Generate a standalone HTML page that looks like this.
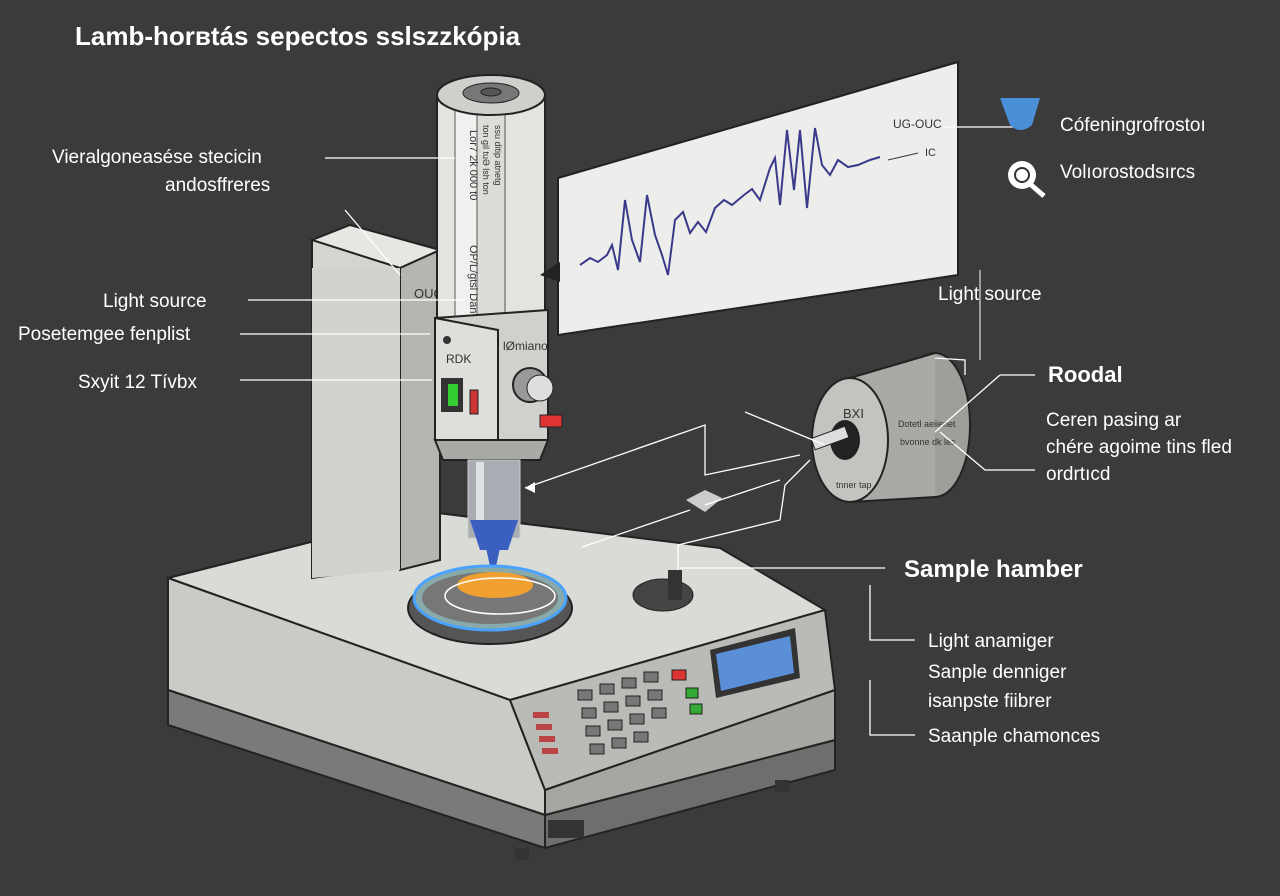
<!DOCTYPE html>
<html><head><meta charset="utf-8"><style>
html,body{margin:0;padding:0;background:#3b3b3b;}
svg{display:block}
text{font-family:"Liberation Sans",sans-serif;fill:#fff}
</style></head><body>
<svg width="1280" height="896" viewBox="0 0 1280 896" xmlns="http://www.w3.org/2000/svg">
<rect width="1280" height="896" fill="#3b3b3b"/>
<text x="75" y="45" font-size="26" font-weight="bold">Lamb-horвtás sepectos sslszzkópia</text>

<!-- base -->
<polygon points="168,578 430,512 720,548 825,610 510,700" fill="#d9dbd6" stroke="#222" stroke-width="2"/>
<polygon points="168,578 510,700 545,790 545,815 168,690" fill="#c9cbc6" stroke="#222" stroke-width="2"/>
<polygon points="168,690 545,815 545,848 168,725" fill="#7a7b78" stroke="#222" stroke-width="2"/>
<polygon points="545,815 835,740 835,770 545,848" fill="#6e6f6c" stroke="#222" stroke-width="2"/>
<polygon points="510,700 825,610 835,690 545,790" fill="#b9bbb6" stroke="#222" stroke-width="2"/>
<polygon points="835,690 835,740 545,815 545,790" fill="#a5a7a2" stroke="#222" stroke-width="2"/>
<rect x="548" y="820" width="36" height="18" fill="#333"/>
<rect x="515" y="848" width="14" height="12" fill="#333"/><rect x="775" y="780" width="14" height="12" fill="#333"/>
<g fill="#777" stroke="#222">
<rect x="578" y="690" width="14" height="10"/><rect x="600" y="684" width="14" height="10"/><rect x="622" y="678" width="14" height="10"/><rect x="644" y="672" width="14" height="10"/>
<rect x="582" y="708" width="14" height="10"/><rect x="604" y="702" width="14" height="10"/><rect x="626" y="696" width="14" height="10"/><rect x="648" y="690" width="14" height="10"/>
<rect x="586" y="726" width="14" height="10"/><rect x="608" y="720" width="14" height="10"/><rect x="630" y="714" width="14" height="10"/><rect x="652" y="708" width="14" height="10"/>
<rect x="590" y="744" width="14" height="10"/><rect x="612" y="738" width="14" height="10"/><rect x="634" y="732" width="14" height="10"/>
</g>
<g fill="#b44"><rect x="533" y="712" width="16" height="6"/><rect x="536" y="724" width="16" height="6"/><rect x="539" y="736" width="16" height="6"/><rect x="542" y="748" width="16" height="6"/></g>
<rect x="672" y="670" width="14" height="10" fill="#d33" stroke="#222"/>
<rect x="686" y="688" width="12" height="10" fill="#3a3" stroke="#222"/><rect x="690" y="704" width="12" height="10" fill="#3a3" stroke="#222"/>
<polygon points="710,650 795,628 800,678 716,698" fill="#333"/>
<polygon points="716,654 790,636 794,673 721,691" fill="#5a8fd8"/>

<!-- pillar -->
<polygon points="312,240 350,225 440,250 440,560 312,578" fill="#d3d5d0" stroke="#222" stroke-width="2"/>
<polygon points="312,240 350,225 440,250 400,268" fill="#e6e7e3" stroke="#222" stroke-width="2"/>
<polygon points="400,268 440,250 440,560 400,570" fill="#b4b6b1" stroke="#222" stroke-width="2"/>
<polygon points="312,268 400,268 400,570 312,578" fill="#d0d2cd"/>
<text x="414" y="298" font-size="13" style="fill:#333">OUC</text>

<!-- tube -->
<rect x="437" y="95" width="108" height="240" fill="#e3e3e0" stroke="#222" stroke-width="2"/>
<rect x="455" y="110" width="22" height="225" fill="#f0f0ee" stroke="#555"/>
<rect x="477" y="110" width="28" height="225" fill="#dcdcd8" stroke="#555"/>
<ellipse cx="491" cy="95" rx="54" ry="20" fill="#cfd0cc" stroke="#222" stroke-width="2"/>
<ellipse cx="491" cy="93" rx="28" ry="10" fill="#777" stroke="#222"/>
<ellipse cx="491" cy="92" rx="10" ry="4" fill="#555" stroke="#222"/>
<text transform="translate(470,130) rotate(90)" font-size="11" style="fill:#333">Lor7 2k 000 t0</text>
<text transform="translate(470,245) rotate(90)" font-size="11" style="fill:#333">OP/L/gtsl Dan</text>
<text transform="translate(483,125) rotate(90)" font-size="9" style="fill:#333">ton gil tuƏ lsh ton</text>
<text transform="translate(495,125) rotate(90)" font-size="9" style="fill:#333">ssu ditip atnetg</text>
<!-- housing -->
<polygon points="435,318 548,310 548,440 435,440" fill="#d0d1cd" stroke="#222" stroke-width="2"/>
<polygon points="435,318 498,330 498,440 435,440" fill="#dedfdb" stroke="#222" stroke-width="2"/>
<text x="446" y="363" font-size="12" style="fill:#333">RDK</text>
<text x="503" y="350" font-size="12" style="fill:#333">lØmiano</text>
<circle cx="447" cy="340" r="4" fill="#333"/>
<rect x="441" y="378" width="22" height="34" fill="#333"/><rect x="448" y="384" width="10" height="22" fill="#3c3"/>
<rect x="470" y="390" width="8" height="24" fill="#c33" stroke="#222"/>
<circle cx="530" cy="385" r="17" fill="#999" stroke="#222" stroke-width="2"/>
<circle cx="540" cy="388" r="13" fill="#ddd" stroke="#222"/>
<rect x="540" y="415" width="22" height="12" fill="#d33" stroke="#222"/>
<polygon points="435,440 548,440 540,460 443,460" fill="#a8aaa5" stroke="#222" stroke-width="2"/>
<rect x="468" y="460" width="52" height="78" fill="#a9adb3" stroke="#ccc"/>
<rect x="476" y="462" width="8" height="70" fill="#e0e2e6"/>
<polygon points="470,520 518,520 508,550 480,550" fill="#3b5fc0"/>
<polygon points="486,548 500,548 493,580" fill="#3b5fc0"/>
<!-- dish -->
<ellipse cx="490" cy="608" rx="82" ry="36" fill="#555" stroke="#222" stroke-width="2"/>
<ellipse cx="490" cy="598" rx="76" ry="32" fill="#8aa" stroke="#4aa3ff" stroke-width="3"/>
<ellipse cx="490" cy="598" rx="68" ry="26" fill="#777"/>
<ellipse cx="495" cy="585" rx="38" ry="13" fill="#f0a030"/>
<ellipse cx="500" cy="596" rx="55" ry="18" fill="none" stroke="#fff" stroke-width="1.5"/>
<ellipse cx="663" cy="595" rx="30" ry="16" fill="#444" stroke="#222"/>
<rect x="668" y="570" width="14" height="30" fill="#333"/>

<!-- graph panel -->
<polygon points="558,178 958,62 958,275 578,332 558,335" fill="#ededeb" stroke="#222" stroke-width="2"/>
<polygon points="540,275 560,262 560,282" fill="#222"/>
<polyline fill="none" stroke="#3a3a8a" stroke-width="2" points="580,265 590,258 598,262 607,255 612,245 618,270 625,200 632,240 640,262 647,195 655,235 662,255 668,275 675,220 683,212 690,233 698,222 706,232 715,208 724,200 732,205 744,195 752,189 760,200 770,168 775,158 780,205 787,130 794,190 800,130 807,208 815,128 822,165 830,175 838,160 848,167 858,165 870,160 880,157"/>
<text x="893" y="128" font-size="12" style="fill:#333">UG-OUC</text>
<text x="925" y="156" font-size="11" style="fill:#333">IC</text>
<line x1="888" y1="160" x2="918" y2="153" stroke="#333"/>

<!-- right cylinder -->
<ellipse cx="935" cy="425" rx="35" ry="72" fill="#9d9f9b" stroke="#222" stroke-width="2"/>
<polygon points="850,378 935,353 935,497 850,502" fill="#a8aaa6"/>
<line x1="850" y1="378" x2="935" y2="353" stroke="#222" stroke-width="2"/>
<line x1="850" y1="502" x2="935" y2="497" stroke="#222" stroke-width="2"/>
<ellipse cx="850" cy="440" rx="38" ry="62" fill="#c3c4c0" stroke="#222" stroke-width="2"/>
<ellipse cx="845" cy="440" rx="15" ry="20" fill="#222"/>
<rect x="812" y="432" width="36" height="12" fill="#ddd" stroke="#222" transform="rotate(-20 830 438)"/>
<text x="843" y="418" font-size="13" style="fill:#333">BXI</text>
<text x="836" y="488" font-size="9" style="fill:#333">tnner tap</text>
<text x="898" y="427" font-size="9" style="fill:#333">Dotetl aeiienet</text>
<text x="900" y="445" font-size="9" style="fill:#333">bvonne dk les</text>
<polygon points="686,500 705,490 722,498 705,512" fill="#ccc"/>

<!-- connectors -->
<g stroke="#fff" stroke-width="1.3" fill="none">
<line x1="325" y1="158" x2="455" y2="158"/>
<line x1="345" y1="210" x2="400" y2="275"/>
<line x1="248" y1="300" x2="465" y2="300"/>
<line x1="240" y1="334" x2="430" y2="334"/>
<line x1="240" y1="380" x2="432" y2="380"/>
<polyline points="525,488 705,425 705,475 800,455"/>
<line x1="745" y1="412" x2="825" y2="445"/>
<line x1="582" y1="547" x2="690" y2="510"/>
<line x1="705" y1="505" x2="780" y2="480"/>
<polyline points="678,570 678,545 780,520 785,485 810,460"/>
<line x1="945" y1="127" x2="1025" y2="127"/>
<line x1="980" y1="270" x2="980" y2="360" stroke-width="1"/>
<polyline points="965,375 965,360 935,358"/>
<line x1="1035" y1="375" x2="1000" y2="375"/>
<line x1="1000" y1="375" x2="935" y2="432"/>
<polyline points="1035,470 985,470 940,432"/>
<line x1="680" y1="568" x2="885" y2="568"/>
<polyline points="870,585 870,640 915,640"/>
<polyline points="870,680 870,735 915,735"/>
</g>
<polygon points="525,488 535,482 535,493" fill="#fff"/>

<!-- right icons -->
<path d="M1000,98 L1040,98 L1032,125 Q1020,135 1010,125 Z" fill="#4a90d9"/>
<circle cx="1022" cy="175" r="14" fill="#fff"/><circle cx="1022" cy="175" r="7" fill="none" stroke="#333" stroke-width="2"/>
<line x1="1030" y1="184" x2="1044" y2="196" stroke="#fff" stroke-width="5"/>

<g font-size="19">
<text x="52" y="163">Vieralgoneasése stecicin</text>
<text x="165" y="191">andosffreres</text>
<text x="103" y="307">Light source</text>
<text x="18" y="340">Posetemgee fenplist</text>
<text x="78" y="388">Sxyit 12 Tívbx</text>
<text x="1060" y="131">Cófeningrofrostoı</text>
<text x="1060" y="178">Volıorostodsırcs</text>
<text x="938" y="300">Light source</text>
<text x="1046" y="426">Ceren pasing ar</text>
<text x="1046" y="453">chére agoime tins fled</text>
<text x="1046" y="480">ordrtıcd</text>
<text x="928" y="647">Light anamiger</text>
<text x="928" y="678">Sanple denniger</text>
<text x="928" y="707">isanpste fiibrer</text>
<text x="928" y="742">Saanple chamonces</text>
</g>
<text x="1048" y="382" font-size="22" font-weight="bold">Roodal</text>
<text x="904" y="577" font-size="24" font-weight="bold">Sample hamber</text>
</svg>
</body></html>
